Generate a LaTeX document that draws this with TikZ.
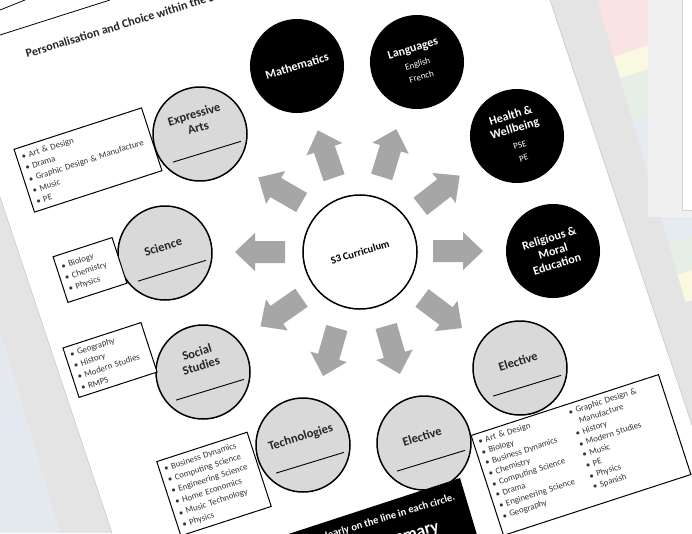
\documentclass[tikz,border=0pt]{standalone}
\usepackage{fontspec}
\setmainfont{Carlito}

\definecolor{circgray}{HTML}{D9D9D9}
\definecolor{arrowgray}{HTML}{A6A6A6}
\definecolor{bggray}{HTML}{E4E4E4}
\definecolor{bgblue}{HTML}{E4E9F0}
\definecolor{pastelpink}{HTML}{FAE3E3}
\definecolor{pastelyellow}{HTML}{FBF8E2}
\definecolor{pastelgreen}{HTML}{E5EFE6}
\definecolor{pastelblue}{HTML}{E6EAF1}
\definecolor{panelgray}{HTML}{F0F0F0}

\newcommand{\itm}{\textbullet\ }
\newcommand{\smalltxt}[1]{{\mdseries\fontsize{9}{11.5}\selectfont #1}}

\tikzset{pics/blockarrow/.style={code={
  \fill[arrowgray] (-25,-11) -- (5,-11) -- (5,-19) -- (25,0) -- (5,19) -- (5,11) -- (-25,11) -- cycle;}}}

\begin{document}
\begin{tikzpicture}[x=1pt, y=-1pt,
  graycirc/.style={circle, draw, line width=1.5pt, fill=circgray, minimum size=94pt, inner sep=0pt},
  blackcirc/.style={circle, fill=black, minimum size=94pt, inner sep=0pt, text=white, align=center, rotate=17, font=\fontsize{12}{13.5}\selectfont\bfseries},
  circtext/.style={align=center, rotate=17, inner sep=0pt, text=black!85, font=\fontsize{12.5}{14}\selectfont\bfseries},
  centcirc/.style={circle, draw, line width=1.5pt, fill=white, minimum size=114pt, inner sep=0pt, rotate=17, font=\fontsize{10.5}{12}\selectfont\bfseries},
  listbox/.style={draw, line width=1pt, fill=white, rotate=18, inner sep=5pt, align=left, text=black!80, font=\fontsize{8.8}{11.8}\selectfont},
  titletext/.style={inner sep=0pt, text=black!85, font=\fontsize{12}{14}\selectfont\bfseries},
  bannertext/.style={inner sep=0pt, text=white, font=\fontsize{10.5}{12}\selectfont\bfseries}]

\useasboundingbox (0,0) rectangle (692,533);
\clip (0,0) rectangle (692,533);

% background behind the page
\fill[bggray] (0,0) rectangle (692,533);
\fill[bgblue] (0,330) -- (60,533) -- (0,533) -- cycle;
\fill[pastelpink] (590,0) -- (692,0) -- (692,30) -- (590,65) -- cycle;
\fill[pastelyellow] (590,65) -- (692,30) -- (692,55) -- (590,88) -- cycle;
\fill[pastelgreen] (590,88) -- (692,55) -- (692,100) -- (590,135) -- cycle;
\fill[pastelblue] (590,135) -- (692,100) -- (692,235) -- (590,270) -- cycle;
\fill[pastelgreen] (590,270) -- (692,235) -- (692,270) -- (590,305) -- cycle;
\fill[pastelyellow] (590,305) -- (692,270) -- (692,300) -- (590,335) -- cycle;
\fill[bggray] (550,0) -- (597,0) -- (753,533) -- (728,533) -- cycle;
\fill[panelgray] (648,0) rectangle (692,217);
\draw[gray!35, fill=white] (682,-2) rectangle (696,210);

% the page
\fill[white] (0,197) -- (0,0) -- (550,0) -- (728,533) -- (112,533) -- cycle;
\draw[gray!45, line width=0.6pt] (0,197) -- (112,533);
\draw[gray!45, line width=0.6pt] (550,0) -- (728,533);
\draw[line width=0.8pt] (0,10) -- (25,0);
\draw[line width=0.8pt] (0,35) -- (110,0);
\node[titletext, anchor=base west, rotate=17] (title) at (27,58) {Personalisation and Choice within the S3 Curriculum};

% arrows round the centre
\foreach \ang/\ax/\ay in {0/458/251, 38/440/191, 73/389/153, 109/326/154, 150/280/190,
                          180/260/252, 215/281/312, 254/330/352, 286/393/350, 323/442/313}
  \pic[rotate=\ang] at (\ax,\ay) {blockarrow};

\node[centcirc] (s3) at (360,252) {S3 Curriculum};

% black circles
\node[blackcirc] (math) at (297,66) {Mathematics};
\node[blackcirc] (lang) at (417,62) {Languages\\[2pt]\smalltxt{English}\\\smalltxt{French}};
\node[blackcirc] (hw) at (517,136) {Health \&\\Wellbeing\\[3pt]\smalltxt{PSE}\\\smalltxt{PE}};
\node[blackcirc] (rme) at (553,251) {Religious \&\\Moral\\Education};

% grey circles with a line to write on
\foreach \nm/\cx/\cy/\txt in {expr/200/134/{Expressive\\Arts}, sci/165/253/Science, soc/203/372/{Social\\Studies},
                              tech/303/445/Technologies, elecb/424/443/Elective, elecr/520/368/Elective}
{
  \begin{scope}[shift={(\cx,\cy)}, rotate=17]
    \node[graycirc] (\nm) at (0,0) {};
    \node[circtext, anchor=south] at (0,-2) {\txt};
    \draw[line width=0.9pt] (-34,19) -- (37,19);
  \end{scope}
}

% subject lists
\node[listbox, text width=124pt, minimum height=66pt] (exprlist) at (88,160)
  {\itm Art \& Design\\\itm Drama\\\itm Graphic Design \& Manufacture\\\itm Music\\\itm PE};
\node[listbox, text width=52pt, minimum height=48pt] (scilist) at (90,270)
  {\itm Biology\\\itm Chemistry\\\itm Physics};
\node[listbox, text width=72pt, minimum height=52pt] (soclist) at (110,360)
  {\itm Geography\\\itm History\\\itm Modern Studies\\\itm RMPS};
\node[listbox, text width=85pt, minimum height=78pt] (techlist) at (214,484)
  {\itm Business Dynamics\\\itm Computing Science\\\itm Engineering Science\\\itm Home Economics\\\itm Music Technology\\\itm Physics};
\node[listbox, text width=187pt, minimum height=105pt, font=\fontsize{8.8}{11.2}\selectfont] (eleclist) at (581,455)
  {\parbox[c][95pt][t]{95pt}{\itm Art \& Design\\\itm Biology\\\itm Business Dynamics\\\itm Chemistry\\\itm Computing Science\\\itm Drama\\\itm Engineering Science\\\itm Geography}%
   \parbox[c][95pt][t]{90pt}{\itm Graphic Design \&\\\hphantom{\itm}Manufacture\\\itm History\\\itm Modern Studies\\\itm Music\\\itm PE\\\itm Physics\\\itm Spanish}};

% black banner at the foot
\fill[black] (270,540) -- (460,478) -- (480,545) -- (300,600) -- cycle;
\node[bannertext, anchor=east, rotate=17] (note) at (455,497) {Write clearly on the line in each circle.};
\node[bannertext, anchor=base east, rotate=16, font=\fontsize{17}{19}\selectfont\bfseries] (foot) at (440,531) {Summary};

\end{tikzpicture}
\end{document}
